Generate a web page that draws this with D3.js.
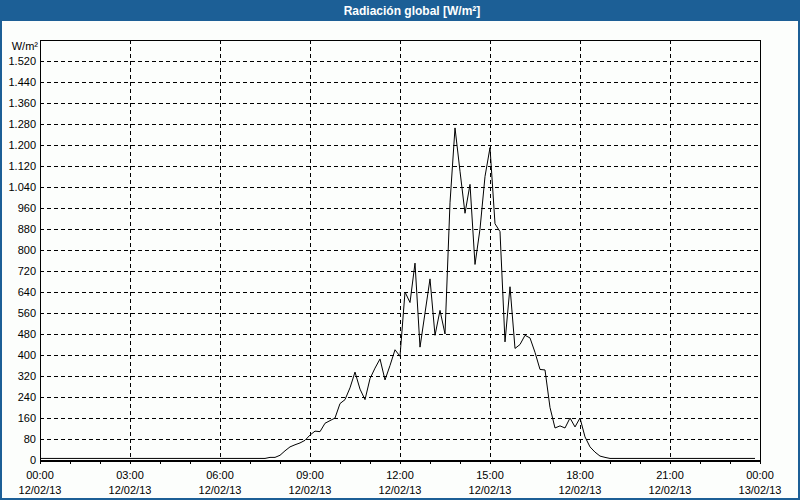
<!DOCTYPE html>
<html><head><meta charset="utf-8">
<script src="https://cdn.jsdelivr.net/npm/d3@7"></script>
<style>html,body{margin:0;padding:0;background:#fcfefc;}svg{display:block;}</style>
</head><body>
<script>
const title = "Radiación global [W/m²]";
const unitLabel = "W/m²";
// 10-minute samples starting 12/02/13 00:00
const startTime = new Date(2013, 1, 12, 0, 0);
const stepMinutes = 10;
const nightValue = 6;
const dayValues = [
  10, 10, 18, 35, 50, 58, 65, 75, 95, 110,
  108, 140, 150, 160, 215, 230, 275, 335, 270, 230,
  310, 350, 385, 305, 360, 420, 395, 640, 600, 750,
  430, 560, 690, 475, 570, 480, 980, 1265, 1100, 940,
  1050, 745, 880, 1080, 1190, 900, 870, 450, 660, 425,
  440, 475, 465, 410, 345, 343, 200, 122, 130, 122,
  160, 126, 160, 88, 50, 30, 15, 10
];
const dayStartIndex = 46;
const totalSamples = 144;
const yTicks = [0,80,160,240,320,400,480,560,640,720,800,880,960,1040,1120,1200,1280,1360,1440,1520];
const xTickHours = [0,3,6,9,12,15,18,21,24];
const xTickTimes = ["00:00","03:00","06:00","09:00","12:00","15:00","18:00","21:00","00:00"];
const xTickDates = ["12/02/13","12/02/13","12/02/13","12/02/13","12/02/13","12/02/13","12/02/13","12/02/13","13/02/13"];

const values = [];
for (let i = 0; i < totalSamples; i++) {
  const j = i - dayStartIndex;
  values.push(j >= 0 && j < dayValues.length ? dayValues[j] : nightValue);
}
const data = values.map((v, i) => ({t: new Date(startTime.getTime() + i*stepMinutes*60000), v}));

const W = 800, H = 500;
const m = {left: 40, right: 40, top: 40, bottom: 40};
const svg = d3.select("body").append("svg").attr("width", W).attr("height", H);
svg.append("rect").attr("width", W).attr("height", H).attr("fill", "#fcfefc");
// window frame
svg.append("rect").attr("x", 1).attr("y", 1).attr("width", W-2).attr("height", H-2)
  .attr("fill", "none").attr("stroke", "#1c5f96").attr("stroke-width", 2);
svg.append("rect").attr("x", 0).attr("y", 0).attr("width", W).attr("height", 21).attr("fill", "#1c5f96");
svg.append("text").attr("x", 412).attr("y", 14.5).attr("text-anchor", "middle")
  .attr("fill", "#ffffff").attr("font-family", "Liberation Sans, Arial, sans-serif")
  .attr("font-size", 12).attr("font-weight", "bold").text(title);

const x = d3.scaleTime().domain([startTime, new Date(2013, 1, 13, 0, 0)]).range([m.left, W - m.right]);
const y = d3.scaleLinear().domain([0, 1600]).range([H - m.bottom, m.top]);
const font = "Liberation Sans, Arial, sans-serif";

// horizontal grid
const yGrid = svg.append("g").attr("class", "ygrid");
yGrid.selectAll("line").data(yTicks.filter(d => d > 0)).enter().append("line")
  .attr("x1", m.left).attr("x2", W - m.right)
  .attr("y1", d => Math.round(y(d)) + 0.5).attr("y2", d => Math.round(y(d)) + 0.5)
  .attr("stroke", "#000").attr("stroke-dasharray", "4,3").attr("shape-rendering", "crispEdges");
// vertical grid
const xGridHours = xTickHours.filter(h => h > 0 && h < 24);
svg.append("g").selectAll("line").data(xGridHours).enter().append("line")
  .attr("x1", h => Math.round(x(d3.timeHour.offset(startTime, h))) + 0.5)
  .attr("x2", h => Math.round(x(d3.timeHour.offset(startTime, h))) + 0.5)
  .attr("y1", m.top).attr("y2", H - m.bottom)
  .attr("stroke", "#000").attr("stroke-dasharray", "4,3").attr("shape-rendering", "crispEdges");

// y axis labels
const yAxis = d3.axisLeft(y).tickValues(yTicks).tickSize(0).tickPadding(4)
  .tickFormat(d => d3.format(",")(d).replace(/,/g, "."));
const gy = svg.append("g").attr("transform", `translate(${m.left},0)`).call(yAxis);
gy.select(".domain").remove();
gy.selectAll("text").attr("font-family", font).attr("font-size", 11).attr("fill", "#000");
svg.append("text").attr("x", 38).attr("y", 50).attr("text-anchor", "end")
  .attr("font-family", font).attr("font-size", 11).attr("fill", "#000").text(unitLabel);

// x axis: hourly minor ticks
const xAxis = d3.axisBottom(x).ticks(d3.timeHour.every(1)).tickSize(4).tickFormat("");
const gx = svg.append("g").attr("transform", `translate(0,${H - m.bottom})`).call(xAxis);
gx.select(".domain").remove();
gx.selectAll("line").attr("stroke", "#000");
const labels = svg.append("g");
xTickHours.forEach((h, i) => {
  const xx = x(d3.timeHour.offset(startTime, h));
  labels.append("text").attr("x", xx).attr("y", 479).attr("text-anchor", "middle")
    .attr("font-family", font).attr("font-size", 11).attr("fill", "#000").text(xTickTimes[i]);
  labels.append("text").attr("x", xx).attr("y", 494).attr("text-anchor", "middle")
    .attr("font-family", font).attr("font-size", 11).attr("fill", "#000").text(xTickDates[i]);
});

// frame
svg.append("rect").attr("x", m.left + 0.5).attr("y", m.top + 0.5)
  .attr("width", W - m.left - m.right).attr("height", H - m.top - m.bottom)
  .attr("fill", "none").attr("stroke", "#000").attr("shape-rendering", "crispEdges");
svg.append("line").attr("x1", m.left).attr("x2", W - m.right)
  .attr("y1", H - m.bottom + 0.5).attr("y2", H - m.bottom + 0.5)
  .attr("stroke", "#000").attr("stroke-width", 2).attr("shape-rendering", "crispEdges");

// data line
const line = d3.line().x(d => x(d.t)).y(d => y(d.v));
svg.append("path").datum(data).attr("d", line).attr("fill", "none")
  .attr("stroke", "#000").attr("stroke-width", 1);
</script>
</body></html>
